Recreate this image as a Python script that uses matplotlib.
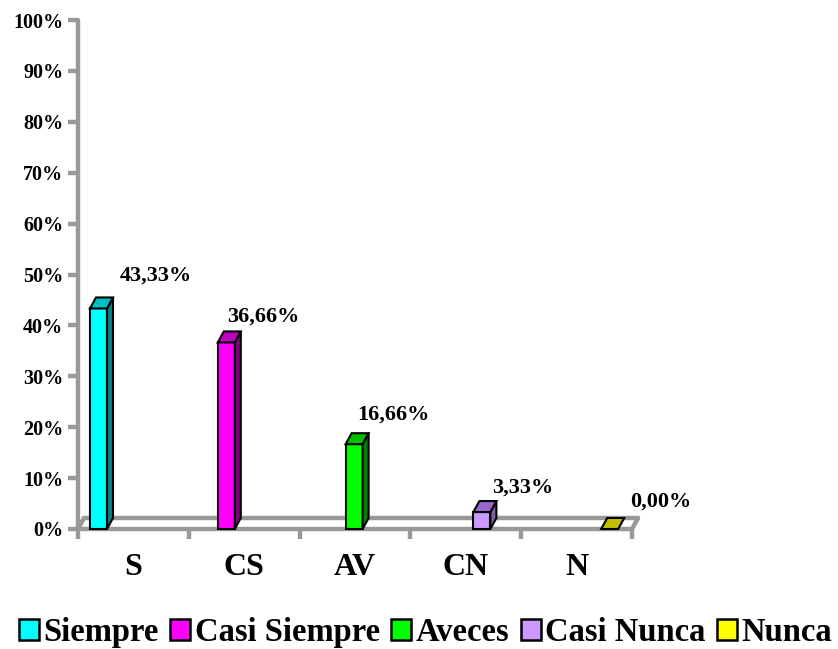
import matplotlib
matplotlib.use("Agg")
import matplotlib.pyplot as plt
from matplotlib.patches import Rectangle, Polygon, Patch

# data
categories = ["S", "CS", "AV", "CN", "N"]
series = ["Siempre", "Casi Siempre", "Aveces", "Casi Nunca", "Nunca"]
values = [43.33, 36.66, 16.66, 3.33, 0.00]
value_labels = ["43,33%", "36,66%", "16,66%", "3,33%", "0,00%"]
y_ticks = [0, 10, 20, 30, 40, 50, 60, 70, 80, 90, 100]

front_colors = ["#00FFFF", "#FF00FF", "#00FF00", "#CC99FF", "#FFFF00"]
top_colors = ["#00BFBF", "#BF00BF", "#00BF00", "#9966CC", "#BFBF00"]
side_colors = ["#008080", "#800080", "#008000", "#7F5FA0", "#808000"]
# small nudges (pixels) so each data label sits where Excel put it
label_dx = [57, 37, 39, 41, 51]
label_dy = [33, 26, 30, 24, 27]

plt.rcParams["font.family"] = ["Liberation Serif", "DejaVu Serif"]
plt.rcParams["font.weight"] = "bold"

fig = plt.figure(figsize=(8.38, 6.49), dpi=100)
W, H = 838, 649
left_px, right_px, top_px, bottom_px = 78, 632, 20, 529
ax = fig.add_axes([left_px / W, 1 - bottom_px / H,
                   (right_px - left_px) / W, (bottom_px - top_px) / H])
ax.set_xlim(0, 5)
ax.set_ylim(0, 100)

# 3d depth in data units
px_x = 5 / (right_px - left_px)
px_y = 100 / (bottom_px - top_px)
dx = 6 * px_x
dy = 11 * px_y

gray = "#999999"
lw_axis = 3.2

# floor
ax.plot([dx, 5 + dx], [dy, dy], color=gray, lw=lw_axis, clip_on=False, zorder=1, solid_capstyle="round")
ax.plot([0, dx], [0, dy], color=gray, lw=lw_axis, clip_on=False, zorder=1, solid_capstyle="round")
ax.plot([5, 5 + dx], [0, dy], color=gray, lw=lw_axis, clip_on=False, zorder=1, solid_capstyle="round")

# bars: each category holds one series, offset inside the group like Excel
bar_w = 17 * px_x
first_off = 12 * px_x
for i, v in enumerate(values):
    x0 = i + first_off + i * bar_w
    ec = "black"
    if v > 0:
        ax.add_patch(Rectangle((x0, 0), bar_w, v, facecolor=front_colors[i],
                               edgecolor=ec, lw=1.5, zorder=4, clip_on=False))
        ax.add_patch(Polygon([(x0 + bar_w, 0), (x0 + bar_w + dx, dy),
                              (x0 + bar_w + dx, v + dy), (x0 + bar_w, v)],
                             closed=True, facecolor=side_colors[i], edgecolor=ec,
                             lw=1.5, zorder=4, clip_on=False))
    ax.add_patch(Polygon([(x0, v), (x0 + bar_w, v), (x0 + bar_w + dx, v + dy),
                          (x0 + dx, v + dy)], closed=True, facecolor=top_colors[i],
                         edgecolor=ec, lw=1.5, zorder=4, clip_on=False))
    ax.annotate(value_labels[i], (x0 + bar_w / 2, v), xytext=(label_dx[i], label_dy[i]),
                textcoords="offset pixels", ha="center", va="center",
                fontsize=16, fontweight="bold", zorder=5)

# axes styling
for s in ["top", "right"]:
    ax.spines[s].set_visible(False)
for s in ["left", "bottom"]:
    ax.spines[s].set_color(gray)
    ax.spines[s].set_linewidth(lw_axis)
    ax.spines[s].set_capstyle("round")

ax.set_yticks(y_ticks)
ax.set_yticklabels([f"{t}%" for t in y_ticks])
ax.tick_params(axis="y", colors=gray, width=lw_axis, length=7.2, pad=3.5,
               labelcolor="black", labelsize=14.5)
ax.set_xticks(range(6))
ax.set_xticklabels([])
ax.set_xticks([i + 0.5 for i in range(5)], minor=True)
ax.set_xticklabels(categories, minor=True)
ax.tick_params(axis="x", which="major", colors=gray, width=lw_axis, length=7.2)
ax.tick_params(axis="x", which="minor", length=0, pad=17, labelsize=23, labelcolor="black")
for lab in ax.get_yticklabels() + ax.get_xticklabels(minor=True):
    lab.set_fontweight("bold")

handles = [Patch(facecolor=c, edgecolor="black", lw=1.8) for c in front_colors]
fig.legend(handles, series, loc="center", bbox_to_anchor=(0.508, 0.025), ncol=5,
           frameon=False, prop={"size": 23.5, "weight": "bold"},
           handlelength=0.6, handleheight=0.6, handletextpad=0.15,
           columnspacing=0.35, borderpad=0, borderaxespad=0)

fig.savefig("out.png", dpi=100)
